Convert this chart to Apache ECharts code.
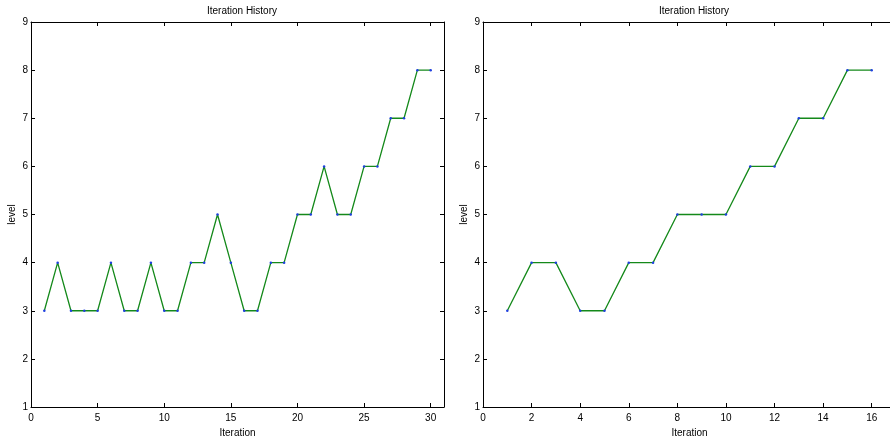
<!DOCTYPE html>
<html>
<head>
<meta charset="utf-8">
<script src="https://cdn.jsdelivr.net/npm/echarts@6/dist/echarts.min.js"></script>
<style>
    html, body { margin: 0; padding: 0; background: #fff; }
    #main { width: 890px; height: 440px; }
</style>
</head>
<body>
<div id="main"></div>
<script>
'use strict';
// left run: 30 iterations, right run: 16 iterations
var iterLeft = [1, 2, 3, 4, 5, 6, 7, 8, 9, 10, 11, 12, 13, 14, 15, 16, 17, 18, 19, 20, 21, 22, 23, 24, 25, 26, 27, 28, 29, 30];
var levelLeft = [3, 4, 3, 3, 3, 4, 3, 3, 4, 3, 3, 4, 4, 5, 4, 3, 3, 4, 4, 5, 5, 6, 5, 5, 6, 6, 7, 7, 8, 8];
var iterRight = [1, 2, 3, 4, 5, 6, 7, 8, 9, 10, 11, 12, 13, 14, 15, 16];
var levelRight = [3, 4, 4, 3, 3, 4, 4, 5, 5, 5, 6, 6, 7, 7, 8, 8];
var chartTitle = 'Iteration History';
var xName = 'Iteration';
var yName = 'level';

var font = 'Liberation Sans, Arial, sans-serif';

function pairs(xs, ys) {
    return xs.map(function (x, i) {
        return [x, ys[i]];
    });
}

function xAxisFor(gridIndex, max, interval, top) {
    return {
        type: 'value',
        gridIndex: gridIndex,
        position: top ? 'top' : 'bottom',
        min: 0,
        max: max,
        interval: interval,
        name: top ? '' : xName,
        nameLocation: 'middle',
        nameGap: 19,
        nameTextStyle: { fontFamily: font, fontSize: 10, color: '#000' },
        axisLine: { show: true, onZero: false, lineStyle: { color: '#000', width: 1 } },
        axisTick: { show: true, inside: true, length: 4, lineStyle: { color: '#000' } },
        axisLabel: {
            show: !top,
            margin: 6,
            fontFamily: font,
            fontSize: 10,
            color: '#000',
            formatter: function (v) {
                return v === max ? '' : String(v);
            }
        },
        splitLine: { show: false }
    };
}

function yAxisFor(gridIndex, right) {
    return {
        type: 'value',
        gridIndex: gridIndex,
        position: right ? 'right' : 'left',
        min: 1,
        max: 9,
        interval: 1,
        name: right ? '' : yName,
        nameLocation: 'middle',
        nameGap: 14,
        nameRotate: 90,
        nameTextStyle: { fontFamily: font, fontSize: 10, color: '#000' },
        axisLine: { show: true, onZero: false, lineStyle: { color: '#000', width: 1 } },
        axisTick: { show: true, inside: true, length: 4, lineStyle: { color: '#000' } },
        axisLabel: { show: !right, margin: 3, fontFamily: font, fontSize: 10, color: '#000' },
        splitLine: { show: false }
    };
}

function seriesFor(idx, data) {
    return {
        type: 'line',
        xAxisIndex: idx * 2,
        yAxisIndex: idx * 2,
        data: data,
        symbol: 'circle',
        symbolSize: 2.5,
        showSymbol: true,
        itemStyle: { color: '#1f3fe0' },
        lineStyle: { color: '#14891a', width: 1.3 },
        animation: false
    };
}

var chart = echarts.init(document.getElementById('main'));
chart.setOption({
    backgroundColor: '#fff',
    title: [
        { text: chartTitle, left: 237, top: 1, textAlign: 'center',
            textStyle: { fontFamily: font, fontSize: 10, fontWeight: 'normal', color: '#000' } },
        { text: chartTitle, left: 689, top: 1, textAlign: 'center',
            textStyle: { fontFamily: font, fontSize: 10, fontWeight: 'normal', color: '#000' } }
    ],
    grid: [
        { left: 31, top: 22, width: 413, height: 385, outerBoundsMode: 'none' },
        { left: 483, top: 22, width: 413, height: 385, outerBoundsMode: 'none' }
    ],
    xAxis: [
        xAxisFor(0, 31, 5, false),
        xAxisFor(0, 31, 5, true),
        xAxisFor(1, 17, 2, false),
        xAxisFor(1, 17, 2, true)
    ],
    yAxis: [
        yAxisFor(0, false),
        yAxisFor(0, true),
        yAxisFor(1, false),
        yAxisFor(1, true)
    ],
    series: [
        seriesFor(0, pairs(iterLeft, levelLeft)),
        seriesFor(1, pairs(iterRight, levelRight))
    ]
});
</script>
</body>
</html>
